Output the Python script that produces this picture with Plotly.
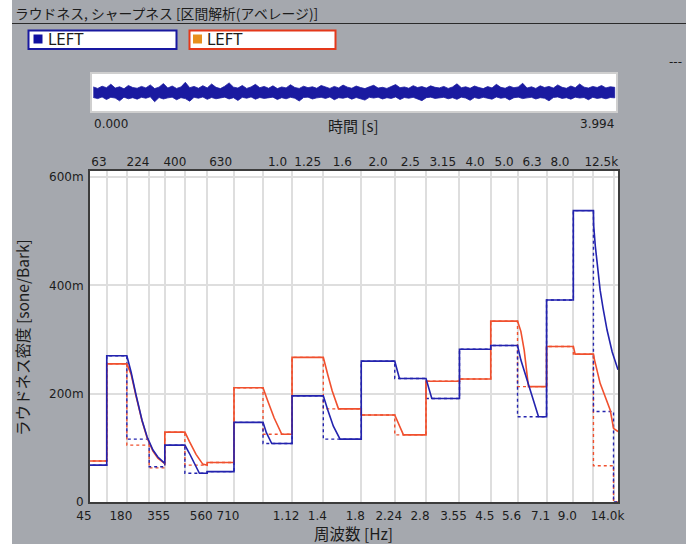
import plotly.graph_objects as go

# ---------------- data ----------------
# critical-band edges in Bark
BAND_EDGES = [0, 0.9, 1.8, 2.8, 3.5, 4.4, 5.4, 6.6, 7.9, 9.2, 10.6, 12.3,
              13.8, 15.2, 16.7, 18.1, 19.3, 20.6, 21.8, 22.7, 23.6, 24.0]
# main loudness per band [sone/Bark] (dashed steps)
BLUE_MAIN = [0.068, 0.270, 0.116, 0.065, 0.105, 0.053, 0.056, 0.147, 0.108,
             0.196, 0.116, 0.260, 0.228, 0.191, 0.282, 0.289, 0.1575, 0.373,
             0.538, 0.167, 0.0]
RED_MAIN = [0.0757, 0.255, 0.105, 0.063, 0.129, 0.068, 0.073, 0.211, 0.125,
            0.267, 0.172, 0.1606, 0.124, 0.223, 0.227, 0.334, 0.213, 0.287,
            0.273, 0.067, 0.0]

# specific loudness incl. masking slopes (solid lines)
BLUE_SOLID_Z = [0, 0, 0.9, 0.9, 1.8, 1.99, 2.21, 2.48, 2.71, 2.97, 3.19, 3.5,
                3.5, 4.4, 4.6, 4.85, 5.05, 5.4, 5.4, 6.6, 6.6, 7.9, 8.05, 8.29,
                9.2, 9.2, 10.6, 10.8, 11.05, 11.35, 12.3, 12.3, 13.8, 14.01,
                15.2, 15.46, 16.7, 16.7, 18.1, 18.1, 19.3, 19.45, 19.72, 20.01,
                20.24, 20.6, 20.6, 21.8, 21.8, 22.7, 22.71, 22.78, 22.87, 23.0,
                23.13, 23.31, 23.54, 23.8]
BLUE_SOLID_N = [0, 0.068, 0.068, 0.270, 0.270, 0.240, 0.198, 0.151, 0.120,
                0.096, 0.083, 0.0714, 0.105, 0.105, 0.090, 0.068, 0.053, 0.053,
                0.056, 0.056, 0.147, 0.147, 0.128, 0.108, 0.108, 0.196, 0.196,
                0.170, 0.140, 0.116, 0.116, 0.260, 0.260, 0.228, 0.228, 0.191,
                0.191, 0.282, 0.282, 0.289, 0.289, 0.262, 0.225, 0.188, 0.1575,
                0.1575, 0.373, 0.373, 0.538, 0.538, 0.511, 0.474, 0.437, 0.391,
                0.358, 0.3175, 0.277, 0.244]
RED_SOLID_Z = [0, 0, 0.9, 0.9, 1.8, 1.99, 2.21, 2.48, 2.71, 2.97, 3.19, 3.5,
               3.5, 4.4, 4.6, 4.9, 5.2, 5.4, 5.4, 6.6, 6.6, 7.9, 8.1, 8.4,
               8.74, 9.2, 9.2, 10.6, 10.8, 11.0, 11.28, 12.3, 12.3, 13.8,
               14.19, 15.2, 15.2, 16.7, 16.7, 18.1, 18.1, 19.3, 19.45, 19.6,
               19.79, 20.6, 20.6, 21.8, 21.88, 22.7, 22.75, 23.0, 23.45, 23.6,
               23.8]
RED_SOLID_N = [0, 0.0757, 0.0757, 0.255, 0.255, 0.236, 0.196, 0.150, 0.118,
               0.094, 0.081, 0.071, 0.129, 0.129, 0.112, 0.088, 0.070, 0.068,
               0.073, 0.073, 0.211, 0.211, 0.188, 0.155, 0.125, 0.125, 0.267,
               0.267, 0.235, 0.205, 0.172, 0.172, 0.1606, 0.1606, 0.124, 0.124,
               0.223, 0.223, 0.227, 0.227, 0.334, 0.334, 0.315, 0.280, 0.213,
               0.213, 0.287, 0.287, 0.273, 0.273, 0.262, 0.219, 0.170, 0.136,
               0.130]

# axis labels
BOTTOM_TICK_Z = [0.15, 0.9, 1.8, 2.8, 3.5, 4.4, 5.4, 6.6, 7.9, 9.2, 10.6, 12.3,
                 13.8, 15.2, 16.7, 18.1, 19.3, 20.6, 21.8, 22.7, 23.6]
BOTTOM_TICK_TEXT = ["45", "", "180", "", "355", "", "560", "710", "", "1.12",
                    "1.4", "1.8", "2.24", "2.8", "3.55", "4.5", "5.6", "7.1",
                    "9.0", "", "14.0k"]
TOP_TICK_Z = [0.55, 2.3, 3.95, 6.0, 8.55, 9.9, 11.45, 13.05, 14.5, 15.95,
              17.4, 18.7, 19.95, 21.2, 23.05]
TOP_TICK_TEXT = ["63", "224", "400", "630", "1.0", "1.25", "1.6", "2.0", "2.5",
                 "3.15", "4.0", "5.0", "6.3", "8.0", "12.5k"]
Y_TICKS = [0, 0.2, 0.4, 0.6]
Y_TICK_TEXT = ["0", "200m", "400m", "600m"]

# overview waveform envelope (upper / lower peaks per block)
WAVE_UPPER = [0.30, 0.22, 0.34, 0.26, 0.45, 0.24, 0.31, 0.20, 0.38, 0.27,
              0.23, 0.33, 0.25, 0.41, 0.21, 0.29, 0.48, 0.24, 0.35, 0.22,
              0.30, 0.55, 0.26, 0.33, 0.23, 0.37, 0.25, 0.46, 0.28, 0.21,
              0.34, 0.52, 0.29, 0.24, 0.38, 0.22, 0.30, 0.44, 0.26, 0.33,
              0.23, 0.36, 0.21, 0.30, 0.25, 0.42, 0.27, 0.22, 0.34, 0.26,
              0.31, 0.23, 0.38, 0.28, 0.22, 0.33, 0.25, 0.40, 0.29, 0.23,
              0.35, 0.27, 0.21, 0.31, 0.39, 0.24, 0.28, 0.22, 0.34, 0.43,
              0.26, 0.30, 0.23, 0.37, 0.27, 0.32, 0.24, 0.36, 0.28, 0.25,
              0.33, 0.22, 0.30, 0.47, 0.26, 0.31, 0.23, 0.35, 0.27, 0.21,
              0.32, 0.25, 0.44, 0.28, 0.23, 0.34, 0.26, 0.30, 0.50, 0.24,
              0.31, 0.22, 0.36, 0.27, 0.33, 0.24, 0.41, 0.28, 0.23, 0.35,
              0.26, 0.46, 0.29, 0.24, 0.33, 0.27, 0.38, 0.25, 0.31, 0.28]
WAVE_LOWER = [-0.27, -0.33, -0.24, -0.38, -0.26, -0.30, -0.45, -0.25, -0.34, -0.28,
              -0.36, -0.26, -0.31, -0.23, -0.50, -0.27, -0.35, -0.29, -0.25, -0.39,
              -0.28, -0.33, -0.47, -0.26, -0.31, -0.24, -0.37, -0.27, -0.34, -0.29,
              -0.25, -0.35, -0.28, -0.43, -0.26, -0.31, -0.24, -0.36, -0.27, -0.32,
              -0.29, -0.25, -0.38, -0.28, -0.34, -0.26, -0.31, -0.46, -0.27, -0.25,
              -0.35, -0.29, -0.26, -0.32, -0.24, -0.39, -0.28, -0.31, -0.25, -0.36,
              -0.27, -0.33, -0.41, -0.26, -0.30, -0.25, -0.35, -0.28, -0.32, -0.24,
              -0.38, -0.27, -0.31, -0.26, -0.33, -0.44, -0.28, -0.25, -0.32, -0.29,
              -0.26, -0.34, -0.28, -0.37, -0.25, -0.30, -0.42, -0.27, -0.33, -0.26,
              -0.29, -0.36, -0.24, -0.31, -0.27, -0.40, -0.28, -0.25, -0.33, -0.29,
              -0.26, -0.35, -0.28, -0.31, -0.45, -0.27, -0.24, -0.32, -0.28, -0.36,
              -0.25, -0.30, -0.27, -0.39, -0.26, -0.32, -0.28, -0.34, -0.27, -0.29]
WAVE_TIME_LABELS = ["0.000", "3.994"]

# ---------------- styling ----------------
BLUE = "#2323AE"
RED = "#F0502E"
BG = "#A5A8AE"
GRID = "#DEDEDE"
TXT = "#1C1C1C"
TICKFONT = dict(family="DejaVu Sans", size=12, color=TXT)
JP = "Noto Sans CJK JP"

W, H = 686, 544
ML, MR, MT, MB = 90, 68, 0, 42
PW, PH = W - ML - MR, H - MT - MB


def px(xp):
    return (xp - ML) / PW


def py(yp):
    return (H - MB - yp) / PH


fig = go.Figure()

# waveform overview
idx = list(range(len(WAVE_UPPER)))
fig.add_trace(go.Scatter(
    x=idx + idx[::-1], y=WAVE_UPPER + WAVE_LOWER[::-1], fill="toself",
    fillcolor="#1A1AA0", line=dict(color="#1A1AA0", width=0.8),
    mode="lines", xaxis="x2", yaxis="y2", showlegend=False, hoverinfo="skip"))

# dashed main-loudness steps
for main, col in ((RED_MAIN, RED), (BLUE_MAIN, BLUE)):
    fig.add_trace(go.Scatter(
        x=BAND_EDGES, y=main + [main[-1]], mode="lines", line_shape="hv",
        line=dict(color=col, width=1.4, dash="3px,3px"), showlegend=False))

# solid specific loudness
for zz, nn, col in ((RED_SOLID_Z, RED_SOLID_N, RED), (BLUE_SOLID_Z, BLUE_SOLID_N, BLUE)):
    fig.add_trace(go.Scatter(
        x=zz, y=nn, mode="lines", line=dict(color=col, width=1.6),
        showlegend=False))

# invisible trace on the top axis so it renders
fig.add_trace(go.Scatter(x=[TOP_TICK_Z[0]], y=[0], xaxis="x3", yaxis="y",
                         mode="markers", marker=dict(opacity=0),
                         showlegend=False, hoverinfo="skip"))

XR = [0.15, 23.8]
fig.update_layout(
    width=W, height=H,
    margin=dict(l=ML, r=MR, t=MT, b=MB, pad=0),
    paper_bgcolor=BG, plot_bgcolor="white",
    showlegend=False,
    xaxis=dict(domain=[0, 1], range=XR, tickmode="array",
               tickvals=BOTTOM_TICK_Z, ticktext=BOTTOM_TICK_TEXT,
               showgrid=True, gridcolor=GRID, gridwidth=2, zeroline=False,
               showline=True, linecolor="#3C3C3C", linewidth=2, mirror=True,
               ticks="", tickfont=TICKFONT, ticklabelshift=-6,
               ticklabelstandoff=2),
    xaxis3=dict(overlaying="x", side="top", anchor="y", range=XR,
                tickmode="array", tickvals=TOP_TICK_Z, ticktext=TOP_TICK_TEXT,
                showgrid=False, zeroline=False, showline=False, ticks="",
                tickfont=TICKFONT, ticklabelstandoff=1),
    yaxis=dict(domain=[0, py(170.5)], range=[0, 0.612], tickmode="array",
               tickvals=Y_TICKS, ticktext=Y_TICK_TEXT, showgrid=True,
               gridcolor=GRID, gridwidth=2, zeroline=False, showline=True,
               linecolor="#3C3C3C", linewidth=2, mirror=True, ticks="",
               tickfont=TICKFONT, ticklabelstandoff=2),
    xaxis2=dict(domain=[px(92), px(616)], anchor="y2",
                range=[-0.3, len(WAVE_UPPER) - 0.7], showgrid=False,
                zeroline=False, showticklabels=False, ticks="",
                showline=True, linecolor="#CFCFCF", linewidth=2, mirror=True),
    yaxis2=dict(domain=[py(111), py(74)], anchor="x2", range=[-1, 1],
                showgrid=False, zeroline=False, showticklabels=False,
                ticks="", showline=True, linecolor="#CFCFCF", linewidth=2,
                mirror=True),
)

shapes = [
    # white left strip
    dict(type="rect", xref="paper", yref="paper", x0=px(0), x1=px(12),
         y0=py(H), y1=py(0), fillcolor="white", line=dict(width=0),
         layer="below"),
    # title underline
    dict(type="line", xref="paper", yref="paper", x0=px(12), x1=px(W),
         y0=py(23.5), y1=py(23.5), line=dict(color="#2A2A2A", width=1)),
    # legend boxes
    dict(type="rect", xref="paper", yref="paper", x0=px(28.5), x1=px(176.5),
         y0=py(49), y1=py(30.5), fillcolor="white",
         line=dict(color="#1818A0", width=2)),
    dict(type="rect", xref="paper", yref="paper", x0=px(189.5), x1=px(335.5),
         y0=py(49), y1=py(30.5), fillcolor="white",
         line=dict(color="#E4381A", width=2)),
    dict(type="rect", xref="paper", yref="paper", x0=px(33.5), x1=px(42.5),
         y0=py(43.5), y1=py(34.5), fillcolor="#1010A0", line=dict(width=0)),
    dict(type="rect", xref="paper", yref="paper", x0=px(193), x1=px(202),
         y0=py(43.5), y1=py(34.5), fillcolor="#E8901C", line=dict(width=0)),
]
fig.update_layout(shapes=shapes)

ann = [
    dict(text="ラウドネス, シャープネス [区間解析(アベレージ)]", x=px(13), y=py(13),
         xanchor="left", yanchor="middle", font=dict(family=JP, size=13.8, color=TXT)),
    dict(text="LEFT", x=px(46), y=py(40), xanchor="left", yanchor="middle",
         font=dict(family="DejaVu Sans", size=15, color=TXT)),
    dict(text="LEFT", x=px(205), y=py(40), xanchor="left", yanchor="middle",
         font=dict(family="DejaVu Sans", size=15, color=TXT)),
    dict(text="---", x=px(684), y=py(62), xanchor="right", yanchor="middle",
         font=dict(family="DejaVu Sans", size=12, color=TXT)),
    dict(text="時間 [s]", x=px(353), y=py(125), xanchor="center", yanchor="middle",
         font=dict(family=JP, size=15, color=TXT)),
    dict(text="周波数 [Hz]", x=px(353), y=py(533), xanchor="center", yanchor="middle",
         font=dict(family=JP, size=15.5, color=TXT)),
    dict(text="ラウドネス密度 [sone/Bark]", x=px(22), y=py(338), textangle=-90,
         xanchor="center", yanchor="middle", font=dict(family=JP, size=15.5, color=TXT)),
]
for a in ann:
    a.update(xref="paper", yref="paper", showarrow=False)
fig.update_layout(annotations=ann)

fig.add_annotation(text=WAVE_TIME_LABELS[0], xref="x2", yref="paper", x=-0.3,
                   y=py(124), xanchor="left", yanchor="middle", showarrow=False,
                   font=TICKFONT)
fig.add_annotation(text=WAVE_TIME_LABELS[1], xref="x2", yref="paper",
                   x=len(WAVE_UPPER) - 0.7, y=py(124), xanchor="right",
                   yanchor="middle", showarrow=False, font=TICKFONT)

fig.write_html("out.html", config={"displayModeBar": False},
               post_script="document.body.style.margin='0';document.body.style.padding='0';")
